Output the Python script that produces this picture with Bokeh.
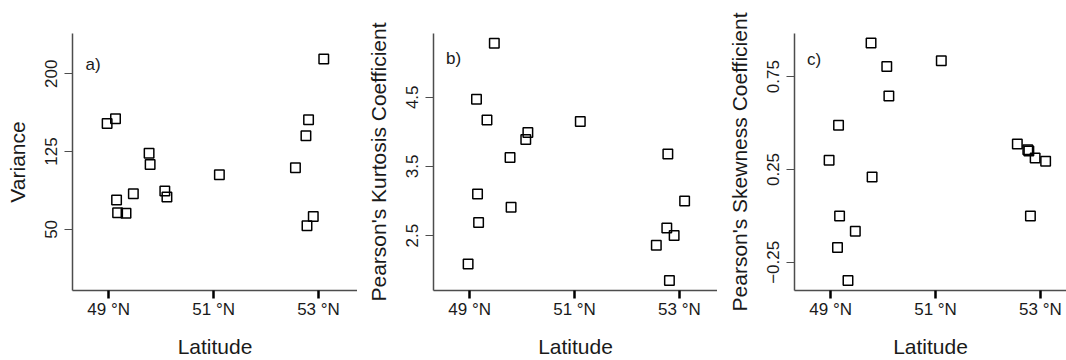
from bokeh.plotting import figure
from bokeh.layouts import row
from bokeh.models import FixedTicker, Range1d, Label
from bokeh.embed import file_html
from bokeh.resources import INLINE

# Station latitudes (degrees north), shared by all three panels
latitude = [48.97, 49.13, 49.15, 49.17, 49.33, 49.47, 49.77, 49.79, 50.07,
            50.11, 51.11, 52.56, 52.76, 52.78, 52.81, 52.90, 53.10]

# Per-station statistics
variance = [152.1, 156.5, 78.4, 66.1, 65.5, 84.4, 123.4, 112.4, 86.9,
            81.2, 102.6, 109.3, 140.2, 53.5, 155.6, 62.3, 214.2]
kurtosis = [2.09, 4.47, 3.10, 2.69, 4.17, 5.28, 3.63, 2.91, 3.89,
            3.99, 4.15, 2.36, 2.61, 3.68, 1.85, 2.50, 3.00]
skewness = [0.299, -0.170, 0.488, 0.0, -0.348, -0.083, 0.931, 0.21, 0.804,
            0.646, 0.835, 0.387, 0.356, 0.35, 0.0, 0.312, 0.294]

lat_ticks = [49, 51, 53]
lat_labels = ["49 °N", "51 °N", "53 °N"]

var_ticks = [50, 125, 200]
var_labels = ["50", "125", "200"]
kurt_ticks = [2.5, 3.5, 4.5]
kurt_labels = ["2.5", "3.5", "4.5"]
skew_ticks = [-0.25, 0.25, 0.75]
skew_labels = ["\u22120.25", "0.25", "0.75"]

FONT = "Liberation Sans"
AXIS_GREY = "#4d4d4d"


def panel(values, ylabel, tag, yticks, ylabels, x_end, y_range, width,
          border_left, tag_pos):
    p = figure(width=width, height=360, output_backend="svg",
               toolbar_location=None,
               x_range=Range1d(48.31, x_end), y_range=Range1d(*y_range),
               min_border_left=border_left, min_border_right=0,
               min_border_top=33, min_border_bottom=65)
    p.outline_line_color = None
    p.xgrid.visible = False
    p.ygrid.visible = False
    p.background_fill_color = "white"
    p.border_fill_color = "white"

    p.scatter(latitude, values, marker="square", size=9.5,
              fill_color=None, line_color="black", line_width=1.5)

    # x axis: latitude with heavy outward ticks
    xa = p.xaxis[0]
    xa.ticker = FixedTicker(ticks=lat_ticks)
    xa.major_label_overrides = dict(zip(lat_ticks, lat_labels))
    xa.axis_line_color = AXIS_GREY
    xa.axis_line_width = 1.5
    xa.major_tick_line_color = "black"
    xa.major_tick_line_width = 2.5
    xa.major_tick_out = 8
    xa.major_tick_in = 0
    xa.minor_tick_line_color = None
    xa.major_label_standoff = 1
    xa.major_label_text_font = FONT
    xa.major_label_text_font_size = "17px"
    xa.major_label_text_color = "#1a1a1a"
    xa.axis_label = "Latitude"
    xa.axis_label_text_font = FONT
    xa.axis_label_text_font_size = "21px"
    xa.axis_label_text_font_style = "normal"
    xa.axis_label_text_color = "#1a1a1a"
    xa.axis_label_standoff = 13

    # y axis: statistic with thin ticks and rotated labels
    ya = p.yaxis[0]
    ya.ticker = FixedTicker(ticks=yticks)
    ya.major_label_overrides = dict(zip(yticks, ylabels))
    ya.major_label_orientation = "vertical"
    ya.axis_line_color = AXIS_GREY
    ya.axis_line_width = 1.5
    ya.major_tick_line_color = AXIS_GREY
    ya.major_tick_line_width = 1.2
    ya.major_tick_out = 8
    ya.major_tick_in = 0
    ya.minor_tick_line_color = None
    ya.major_label_standoff = 7
    ya.major_label_text_font = FONT
    ya.major_label_text_font_size = "17px"
    ya.major_label_text_color = "#1a1a1a"
    ya.axis_label = ylabel
    ya.axis_label_text_font = FONT
    ya.axis_label_text_font_size = "21px"
    ya.axis_label_text_font_style = "normal"
    ya.axis_label_text_color = "#1a1a1a"
    ya.axis_label_standoff = 14

    p.add_layout(Label(x=tag_pos[0], y=tag_pos[1], text=tag,
                       text_font=FONT, text_font_size="17px",
                       text_color="#1a1a1a", text_align="left",
                       text_baseline="middle"))
    return p


pa = panel(variance, "Variance", "a)", var_ticks, var_labels,
           53.743, (-8.9, 238.75), 357, 72, (48.56, 209.0))
pb = panel(kurtosis, "Pearson's Kurtosis Coefficient", "b)", kurt_ticks,
           kurt_labels, 53.727, (1.706, 5.422), 360, 76, (48.55, 5.067))
pc = panel(skewness, "Pearson's Skewness Coefficient", "c)", skew_ticks,
           skew_labels, 53.498, (-0.4016, 0.982), 349, 77, (48.55, 0.842))

layout = row(pa, pb, pc)
open("out.html", "w").write(file_html(layout, INLINE))
